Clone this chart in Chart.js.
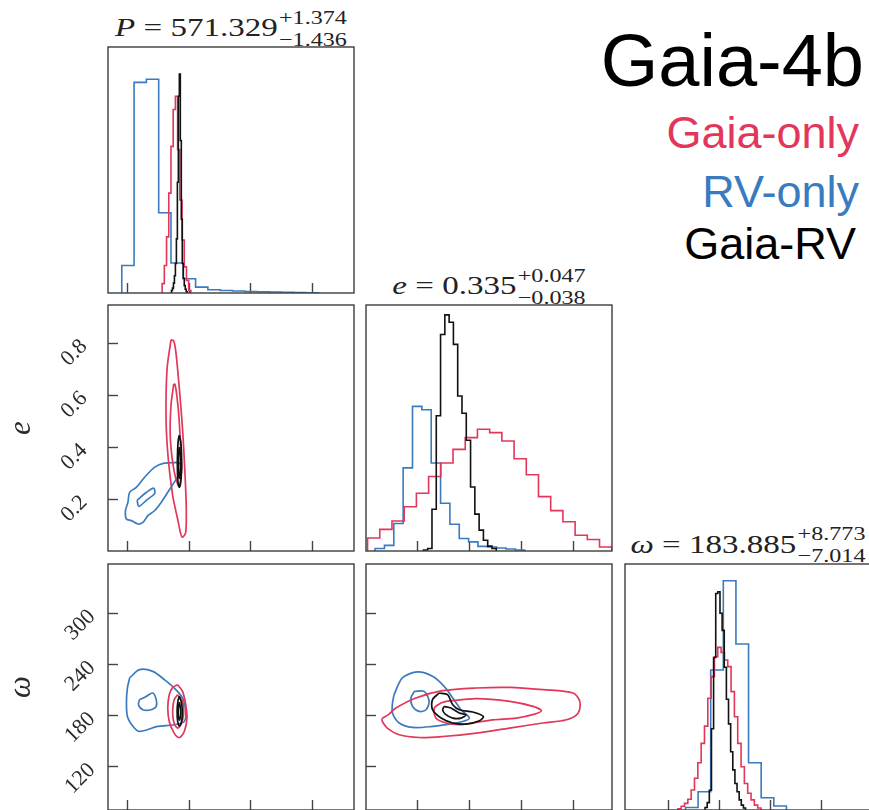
<!DOCTYPE html>
<html>
<head>
<meta charset="utf-8">
<title>Gaia-4b posterior corner plot</title>
<script src="https://cdn.jsdelivr.net/npm/chart.js@4.4.1/dist/chart.umd.min.js"></script>
<style>
  html, body { margin: 0; padding: 0; background: #fff; width: 869px; height: 810px; overflow: hidden; }
  #fig { position: relative; width: 869px; height: 810px; }
  #fig canvas { position: absolute; }
  .ttl { position: absolute; display: flex; justify-content: center; align-items: flex-start;
         font-family: 'Liberation Serif', 'Times New Roman', serif; color: #222;
         transform: scaleX(1.27); transform-origin: center top; white-space: nowrap; }
  .ttl .main { font-size: 26px; line-height: 26px; }
  .ttl .ss { display: flex; flex-direction: column; font-size: 19px; line-height: 22px; margin-top: -8.6px; margin-left: 1px; }
  .lab { position: absolute; font-family: 'Liberation Sans', Arial, sans-serif; line-height: 1; white-space: nowrap; }
</style>
</head>
<body>
<div id="fig"></div>
<script>
// ---------- series colours ----------
const RED = '#e2375a';    // Gaia-only
const BLUE = '#3a7bbf';   // RV-only
const BLACK = '#111111';  // Gaia-RV

// ---------- axes ----------
const pRange = [542, 642];
const eRange = [0, 0.947];
const wRange = [69.5, 358];
const pTicks = [550, 575, 600, 625];
const eTicks = [0.2, 0.4, 0.6, 0.8];
const wTicks = [120, 180, 240, 300];

// ---------- 1D marginals (normalised step histograms) ----------
// period P
const pBlueStart = 547.6, pBlueWidth = 5.0;
const pBlueCounts = [0.112, 0.856, 0.869, 0.326, 0.122, 0.058, 0.024, 0.013, 0.010, 0.008, 0.006, 0.005, 0.004, 0.003, 0.002, 0.001];
const pRedStart = 564.0, pRedWidth = 0.9;
const pRedCounts = [0.038, 0.112, 0.228, 0.406, 0.596, 0.746, 0.800, 0.583, 0.378, 0.215, 0.106, 0.051, 0.010];
const pBlackStart = 567.8, pBlackWidth = 0.4;
const pBlackCounts = [0.01, 0.02, 0.04, 0.07, 0.12, 0.22, 0.45, 0.80, 0.89, 0.62, 0.30, 0.12, 0.06, 0.03, 0.015, 0.005];

// eccentricity e
const eRedStart = 0.006, eRedWidth = 0.047;
const eRedCounts = [0.053, 0.088, 0.122, 0.180, 0.235, 0.303, 0.358, 0.413, 0.461, 0.495, 0.481, 0.447, 0.375, 0.310, 0.221, 0.164, 0.119, 0.064, 0.047, 0.016];
const eBlueStart = 0.035, eBlueWidth = 0.036;
const eBlueCounts = [0.010, 0.023, 0.112, 0.338, 0.588, 0.574, 0.358, 0.194, 0.109, 0.051, 0.037, 0.019, 0.016, 0.012, 0.008, 0.004];
const eBlackStart = 0.221, eBlackWidth = 0.0165;
const eBlackCounts = [0.004, 0.01, 0.17, 0.55, 0.88, 0.96, 0.93, 0.84, 0.63, 0.56, 0.45, 0.26, 0.15, 0.085, 0.044, 0.02, 0.01];

// argument of periastron omega
const wBlueStart = 140.4, wBlueWidth = 14.8;
const wBlueCounts = [0.010, 0.074, 0.569, 0.932, 0.675, 0.192, 0.050, 0.016];
const wRedStart = 131.5, wRedWidth = 3.9;
const wRedCounts = [0.005, 0.015, 0.027, 0.044, 0.081, 0.129, 0.192, 0.271, 0.341, 0.454, 0.542, 0.623, 0.661, 0.640, 0.610, 0.583, 0.481, 0.379, 0.271, 0.176, 0.108, 0.068, 0.041, 0.020, 0.008];
const wBlackStart = 163.4, wBlackWidth = 2.5;
const wBlackCounts = [0.01, 0.03, 0.08, 0.33, 0.62, 0.88, 0.887, 0.80, 0.73, 0.58, 0.45, 0.35, 0.237, 0.163, 0.108, 0.074, 0.041, 0.02, 0.008];

// ---------- 2D credible-region contours [x, y] ----------
// P vs e
const peRedOuter = [[567.6,0.813],[566.0,0.700],[565.6,0.508],[566.5,0.354],[568.3,0.213],[570.3,0.123],[571.6,0.065],[572.3,0.053],[573.6,0.072],[573.8,0.174],[573.2,0.315],[572.3,0.469],[570.9,0.636],[569.6,0.765],[568.7,0.809]];
const peRedInner = [[568.7,0.642],[567.6,0.559],[567.3,0.443],[568.3,0.341],[569.6,0.277],[570.9,0.251],[571.9,0.315],[571.6,0.380],[570.9,0.508],[570.0,0.597],[569.2,0.642]];
const peBlueOuter = [[570.3,0.341],[564.9,0.338],[560.9,0.322],[556.8,0.283],[553.5,0.245],[550.8,0.226],[550.1,0.187],[549.1,0.155],[549.5,0.123],[551.5,0.117],[554.2,0.104],[556.2,0.110],[558.2,0.136],[560.9,0.155],[563.6,0.187],[566.3,0.226],[568.9,0.264],[571.8,0.310],[571.4,0.335]];
const peBlueInner = [[553.8,0.195],[554.6,0.172],[557.8,0.197],[561.0,0.222],[560.5,0.242],[557.5,0.225]];
const peBlackOuter = [[571.0,0.446],[571.6,0.420],[571.9,0.370],[571.9,0.310],[571.5,0.260],[571.0,0.246],[570.4,0.270],[570.2,0.330],[570.3,0.390],[570.6,0.430]];
const peBlackInner = [[571.0,0.400],[571.4,0.370],[571.5,0.330],[571.3,0.290],[571.0,0.280],[570.7,0.300],[570.6,0.340],[570.7,0.380]];

// P vs omega
const pwBlueOuter = [[550.8,224.4],[554.8,234.1],[560.2,232.1],[564.9,222.4],[568.9,212.6],[572.3,200.9],[573.6,185.1],[573.0,173.3],[568.9,169.5],[562.2,167.5],[554.8,161.6],[552.2,167.5],[549.9,179.2],[549.5,196.9],[549.9,212.6]];
const pwBlueInner = [[554.8,198.9],[557.5,202.7],[560.2,206.7],[561.6,198.9],[561.6,191.0],[559.5,187.1],[556.2,187.1],[554.4,193.0]];
const pwRedOuter = [[570.3,216.5],[572.3,208.6],[573.6,193.0],[574.1,177.3],[573.0,161.6],[571.0,154.5],[568.9,159.7],[566.9,173.3],[566.3,189.1],[566.9,204.7],[568.3,213.3]];
const pwRedInner = [[570.3,204.7],[572.3,196.9],[572.7,181.2],[571.6,169.5],[570.3,165.6],[568.7,173.3],[568.3,187.1],[568.9,198.9]];
const pwBlackOuter = [[571.0,203],[571.9,195],[572.2,182],[571.8,172],[571.0,168],[570.3,174],[570.1,186],[570.4,197]];
const pwBlackInner = [[571.0,196],[571.5,188],[571.5,180],[571.0,175],[570.6,181],[570.6,190]];

// e vs omega
const ewRedOuter = [[0.061,176.5],[0.089,182.0],[0.115,189.1],[0.192,200.9],[0.295,209.4],[0.424,212.6],[0.553,213.3],[0.681,210.6],[0.797,206.7],[0.823,196.9],[0.817,183.2],[0.772,175.3],[0.681,171.5],[0.553,165.6],[0.424,159.7],[0.295,155.7],[0.205,154.5],[0.128,157.7],[0.082,165.6],[0.063,173.3]];
const ewRedInner = [[0.308,196.9],[0.424,200.0],[0.553,196.9],[0.643,191.0],[0.675,185.9],[0.649,182.0],[0.579,177.3],[0.488,175.3],[0.411,171.5],[0.359,169.5],[0.308,171.5],[0.269,177.3],[0.263,189.1],[0.289,195.0]];
const ewBlueOuter = [[0.108,204.7],[0.140,224.4],[0.198,231.4],[0.256,226.3],[0.301,214.5],[0.334,200.9],[0.366,187.1],[0.398,177.3],[0.372,173.3],[0.321,170.3],[0.256,167.5],[0.179,166.3],[0.128,171.5],[0.102,183.2],[0.102,195.0]];
const ewBlueInner = [[0.186,208.6],[0.224,208.6],[0.243,196.9],[0.231,187.1],[0.205,185.1],[0.179,191.0],[0.173,200.9]];
const ewBlackOuter = [[0.282,206.7],[0.314,204.7],[0.334,193.0],[0.359,187.1],[0.411,184.4],[0.452,179.2],[0.437,174.2],[0.385,170.3],[0.334,171.5],[0.289,177.3],[0.256,187.1],[0.256,198.9]];
const ewBlackInner = [[0.301,191.0],[0.327,189.1],[0.359,183.2],[0.385,181.2],[0.366,177.3],[0.334,177.3],[0.305,182.0],[0.295,187.1]];

// ---------- text ----------
const titles = [
  { sym: 'P', med: '571.329', up: '+1.374', lo: '\u22121.436', col: 0, base: 37 },
  { sym: 'e', med: '0.335', up: '+0.047', lo: '\u22120.038', col: 1, base: 295 },
  { sym: '\u03c9', med: '183.885', up: '+8.773', lo: '\u22127.014', col: 2, base: 553.5 }
];
const legendLines = [
  { text: 'Gaia-4b', color: '#000000', size: 74, base: 87, right: 5 },
  { text: 'Gaia-only', color: RED, size: 45, base: 148, right: 10 },
  { text: 'RV-only', color: BLUE, size: 45, base: 207, right: 10 },
  { text: 'Gaia-RV', color: '#000000', size: 45, base: 259, right: 13 }
];

// ---------- layout of the panel grid ----------
const COLS = [108, 366, 625];
const ROWS = [47, 305, 564];
const SIZE = 246;
const fig = document.getElementById('fig');

// titles above the diagonal panels
titles.forEach(t => {
  const d = document.createElement('div');
  d.className = 'ttl';
  d.style.left = COLS[t.col] + 'px';
  d.style.width = SIZE + 'px';
  d.style.top = (t.base - 21.8) + 'px';
  const m = document.createElement('span');
  m.className = 'main';
  const s = document.createElement('i');
  s.textContent = t.sym;
  m.appendChild(s);
  m.appendChild(document.createTextNode(' = ' + t.med));
  const ss = document.createElement('span');
  ss.className = 'ss';
  const u = document.createElement('span'); u.textContent = t.up;
  const l = document.createElement('span'); l.textContent = t.lo;
  ss.appendChild(u); ss.appendChild(l);
  d.appendChild(m); d.appendChild(ss);
  fig.appendChild(d);
});

// legend block in the upper right
legendLines.forEach(g => {
  const d = document.createElement('div');
  d.className = 'lab';
  d.textContent = g.text;
  d.style.color = g.color;
  d.style.fontSize = g.size + 'px';
  d.style.right = g.right + 'px';
  d.style.top = (g.base - 0.8465 * g.size) + 'px';
  fig.appendChild(d);
});

// ---------- dataset helpers ----------
function stepPoints(start, width, counts) {
  const pts = [{ x: start, y: 0 }];
  counts.forEach((c, i) => pts.push({ x: start + i * width, y: c }));
  pts.push({ x: start + counts.length * width, y: 0 });
  return pts;
}
function histSet(start, width, counts, color) {
  return { data: stepPoints(start, width, counts), showLine: true, stepped: true,
           borderColor: color, borderWidth: 1.6, pointRadius: 0, fill: false };
}
function loopSet(pairs, color) {
  const pts = pairs.map(p => ({ x: p[0], y: p[1] }));
  pts.push({ x: pairs[0][0], y: pairs[0][1] });
  return { data: pts, showLine: true, tension: 0.3, borderColor: color,
           borderWidth: 1.7, pointRadius: 0, fill: false };
}

// box around each panel
const framePlugin = {
  id: 'frame',
  afterDatasetsDraw(chart) {
    const { ctx, chartArea: a } = chart;
    ctx.save();
    ctx.strokeStyle = '#3c3c3c';
    ctx.lineWidth = 1.4;
    ctx.strokeRect(a.left, a.top, a.right - a.left, a.bottom - a.top);
    ctx.restore();
  }
};

const serif = "'Liberation Serif', 'Times New Roman', serif";

function makePanel(cfg) {
  const left = COLS[cfg.col], top = ROWS[cfg.row];
  const lm = cfg.yLabels ? left : 2;
  const canvas = document.createElement('canvas');
  canvas.width = lm + SIZE + 2;
  canvas.height = SIZE + 4;
  canvas.style.left = (left - lm) + 'px';
  canvas.style.top = (top - 2) + 'px';
  fig.appendChild(canvas);

  const tickGrid = { drawOnChartArea: false, drawTicks: true, tickLength: -10,
                     tickColor: '#444', tickWidth: 1.4 };
  const yTicks = cfg.yt || [];

  new Chart(canvas, {
    type: 'scatter',
    data: { datasets: cfg.datasets },
    options: {
      responsive: false,
      animation: false,
      devicePixelRatio: 1,
      layout: { padding: { top: 2, right: 2, left: 0, bottom: 0 } },
      plugins: { legend: { display: false }, tooltip: { enabled: false } },
      scales: {
        x: {
          type: 'linear', min: cfg.xr[0], max: cfg.xr[1],
          afterBuildTicks: s => { s.ticks = cfg.xt.map(v => ({ value: v })); },
          afterFit: s => { s.height = 2; s.paddingLeft = 0; s.paddingRight = 0; },
          ticks: { display: false },
          grid: tickGrid,
          border: { display: false }
        },
        y: {
          type: 'linear', min: cfg.yr[0], max: cfg.yr[1],
          afterBuildTicks: s => { s.ticks = yTicks.map(v => ({ value: v })); },
          afterFit: s => { s.width = lm; s.paddingTop = 0; s.paddingBottom = 0; },
          ticks: {
            display: !!cfg.yLabels, minRotation: 45, maxRotation: 45,
            padding: cfg.yPad || 0, color: '#2a2a2a',
            font: { family: serif, size: 22 }
          },
          grid: yTicks.length ? tickGrid : { display: false },
          border: { display: false },
          title: cfg.yTitle ? {
            display: true, text: cfg.yTitle, color: '#2a2a2a',
            font: { family: serif, size: 31, style: 'italic' },
            padding: { top: 3, bottom: 0 }
          } : { display: false }
        }
      }
    },
    plugins: [framePlugin]
  });
}

// ---------- panels ----------
makePanel({ col: 0, row: 0, xr: pRange, yr: [0, 1], xt: pTicks,
  datasets: [
    histSet(pBlackStart, pBlackWidth, pBlackCounts, BLACK),
    histSet(pRedStart, pRedWidth, pRedCounts, RED),
    histSet(pBlueStart, pBlueWidth, pBlueCounts, BLUE)
  ] });

makePanel({ col: 0, row: 1, xr: pRange, yr: eRange, xt: pTicks, yt: eTicks,
  yLabels: true, yPad: 34, yTitle: 'e',
  datasets: [
    loopSet(peBlackOuter, BLACK), loopSet(peBlackInner, BLACK),
    loopSet(peRedOuter, RED), loopSet(peRedInner, RED),
    loopSet(peBlueOuter, BLUE), loopSet(peBlueInner, BLUE)
  ] });

makePanel({ col: 1, row: 1, xr: eRange, yr: [0, 1], xt: eTicks,
  datasets: [
    histSet(eBlackStart, eBlackWidth, eBlackCounts, BLACK),
    histSet(eRedStart, eRedWidth, eRedCounts, RED),
    histSet(eBlueStart, eBlueWidth, eBlueCounts, BLUE)
  ] });

makePanel({ col: 0, row: 2, xr: pRange, yr: wRange, xt: pTicks, yt: wTicks,
  yLabels: true, yPad: 26, yTitle: '\u03c9',
  datasets: [
    loopSet(pwBlackOuter, BLACK), loopSet(pwBlackInner, BLACK),
    loopSet(pwRedOuter, RED), loopSet(pwRedInner, RED),
    loopSet(pwBlueOuter, BLUE), loopSet(pwBlueInner, BLUE)
  ] });

makePanel({ col: 1, row: 2, xr: eRange, yr: wRange, xt: eTicks, yt: wTicks,
  datasets: [
    loopSet(ewBlackOuter, BLACK), loopSet(ewBlackInner, BLACK),
    loopSet(ewRedOuter, RED), loopSet(ewRedInner, RED),
    loopSet(ewBlueOuter, BLUE), loopSet(ewBlueInner, BLUE)
  ] });

makePanel({ col: 2, row: 2, xr: wRange, yr: [0, 1], xt: wTicks,
  datasets: [
    histSet(wBlackStart, wBlackWidth, wBlackCounts, BLACK),
    histSet(wRedStart, wRedWidth, wRedCounts, RED),
    histSet(wBlueStart, wBlueWidth, wBlueCounts, BLUE)
  ] });
</script>
</body>
</html>
